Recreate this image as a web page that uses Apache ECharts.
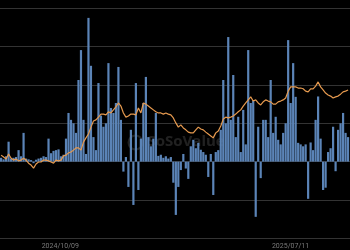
<!DOCTYPE html>
<html>
<head>
<meta charset="utf-8">
<script src="https://cdn.jsdelivr.net/npm/echarts@6/dist/echarts.min.js"></script>
<style>html,body{margin:0;padding:0;background:#000;}#c{width:350px;height:250px;}</style>
</head>
<body>
<div id="c"></div>
<script>
const dates = ['2024-07-29','2024-08-01','2024-08-04','2024-08-07','2024-08-10','2024-08-13','2024-08-16','2024-08-19','2024-08-22','2024-08-25',
'2024-08-28','2024-08-31','2024-09-03','2024-09-06','2024-09-09','2024-09-12','2024-09-15','2024-09-18','2024-09-21','2024-09-24',
'2024-09-27','2024-09-30','2024-10-03','2024-10-06','2024-10-09','2024-10-12','2024-10-15','2024-10-18','2024-10-21','2024-10-24',
'2024-10-27','2024-10-30','2024-11-02','2024-11-05','2024-11-08','2024-11-11','2024-11-14','2024-11-17','2024-11-20','2024-11-23',
'2024-11-26','2024-11-29','2024-12-02','2024-12-05','2024-12-08','2024-12-11','2024-12-14','2024-12-17','2024-12-20','2024-12-23',
'2024-12-26','2024-12-29','2025-01-01','2025-01-04','2025-01-07','2025-01-10','2025-01-13','2025-01-16','2025-01-19','2025-01-22',
'2025-01-25','2025-01-28','2025-01-31','2025-02-03','2025-02-06','2025-02-09','2025-02-12','2025-02-15','2025-02-18','2025-02-21',
'2025-02-24','2025-02-27','2025-03-02','2025-03-05','2025-03-08','2025-03-11','2025-03-14','2025-03-17','2025-03-20','2025-03-23',
'2025-03-26','2025-03-29','2025-04-01','2025-04-04','2025-04-07','2025-04-10','2025-04-13','2025-04-16','2025-04-19','2025-04-22',
'2025-04-25','2025-04-28','2025-05-01','2025-05-04','2025-05-07','2025-05-10','2025-05-13','2025-05-16','2025-05-19','2025-05-22',
'2025-05-25','2025-05-28','2025-05-31','2025-06-03','2025-06-06','2025-06-09','2025-06-12','2025-06-15','2025-06-18','2025-06-21',
'2025-06-24','2025-06-27','2025-06-30','2025-07-03','2025-07-06','2025-07-09','2025-07-12','2025-07-15','2025-07-18','2025-07-21',
'2025-07-24','2025-07-27','2025-07-30','2025-08-02','2025-08-05','2025-08-08','2025-08-11','2025-08-14','2025-08-17','2025-08-20',
'2025-08-23','2025-08-26','2025-08-29','2025-09-01','2025-09-04','2025-09-07','2025-09-10','2025-09-13','2025-09-16','2025-09-19'];

const flows = [10,6,14,52,8,10,12,30,14,75,
8,6,4,-4,5,8,10,14,12,60,
22,28,30,32,14,18,60,127,109,100,
75,213,291,109,20,375,250,64,30,205,
120,91,100,257,140,127,153,247,109,-26,
12,-66,83,-113,205,-74,60,153,221,64,
40,60,127,15,18,10,14,8,12,-55,
-139,-66,-22,20,-18,-45,40,57,35,49,
31,25,18,-40,20,-87,25,30,83,213,
100,325,109,226,64,117,25,135,45,291,
153,160,-144,91,-43,109,109,64,213,75,
117,57,45,75,100,317,153,257,169,49,
45,40,45,-97,50,30,109,170,60,-74,
-68,25,35,91,-25,83,100,127,75,64];

const price = [21.7,21.2,20.7,22.0,20.9,20.4,20.7,20.2,20.4,20.9,
20.4,19.6,19.1,18.3,19.4,19.9,19.9,20.4,20.4,20.2,
19.9,19.6,20.4,20.2,20.4,21.5,21.7,22.3,22.5,23.0,
23.6,23.6,23.0,25.1,26.2,27.2,29.0,30.6,30.9,31.6,
32.4,32.4,32.2,33.0,32.7,33.5,34.3,35.3,34.5,32.7,
31.6,31.9,32.4,32.4,32.2,34.0,32.7,35.3,35.0,34.5,
34.0,33.5,33.0,32.7,32.7,32.4,32.7,32.4,32.2,31.4,
30.1,29.0,29.6,28.8,28.3,27.7,27.5,27.5,28.3,29.0,
28.5,28.3,27.7,27.2,26.7,26.2,27.5,28.0,29.3,31.1,
31.6,31.4,31.6,31.9,32.4,33.0,33.5,34.5,35.3,36.1,
36.9,35.8,36.1,35.3,34.8,35.6,36.1,35.8,35.6,35.0,
35.0,35.6,35.8,36.1,36.6,38.4,39.5,39.5,39.5,39.2,
39.2,39.0,38.4,38.2,39.0,39.0,39.7,40.8,39.5,38.7,
37.9,37.4,37.1,36.6,36.9,37.1,37.6,38.2,38.4,38.7];

const tickLabels = ['2024/10/09', '2025/07/11'];

const pd = s => echarts.number.parseDate(s.replace(/\//g, '-')).getTime();
const xMin = pd('2024-07-29');
const xMax = pd('2025-09-20');
const pad = n => (n < 10 ? '0' : '') + n;
const fmt = v => { const d = new Date(v); return d.getFullYear() + '/' + pad(d.getMonth() + 1) + '/' + pad(d.getDate()); };

const chart = echarts.init(document.getElementById('c'), null, {renderer: 'canvas'});
chart.setOption({
  backgroundColor: '#000000',
  animation: false,
  grid: {left: 0, right: 0, top: 8.3, bottom: 11.7, containLabel: false},
  xAxis: [{
    type: 'time', min: xMin, max: xMax,
    axisLine: {show: false}, axisTick: {show: false}, splitLine: {show: false},
    axisLabel: {show: false}
  }, {
    type: 'value', min: xMin, max: xMax, position: 'bottom',
    axisLine: {show: false}, axisTick: {show: false}, splitLine: {show: false},
    axisLabel: {
      customValues: tickLabels.map(pd),
      color: '#7a7a7a', fontSize: 7, margin: 4, fontFamily: 'Roboto',
      formatter: v => fmt(v)
    }
  }],
  yAxis: [{
    type: 'value', min: -200, max: 400, interval: 100,
    axisLabel: {show: false}, axisLine: {show: false}, axisTick: {show: false},
    splitLine: {show: true, lineStyle: {color: '#333333', width: 1}}
  }, {
    type: 'value', min: 0, max: 60, interval: 10,
    axisLabel: {show: false}, axisLine: {show: false}, axisTick: {show: false},
    splitLine: {show: false}
  }],
  graphic: [{
    type: 'group', left: 126, top: 133, z: 100, silent: true,
    children: [
      {type: 'circle', shape: {cx: 8, cy: 9, r: 7}, style: {fill: 'none', stroke: 'rgba(255,255,255,0.13)', lineWidth: 2}},
      {type: 'text', x: 20, y: 1, style: {text: 'SoSoValue', fill: 'rgba(255,255,255,0.13)', font: 'bold 15px "Open Sans"'}}
    ]
  }],
  series: [{
    type: 'bar', xAxisIndex: 0, yAxisIndex: 0, barWidth: 2.2,
    itemStyle: {color: '#5b84b7'},
    data: dates.map((d, i) => [d, flows[i]])
  }, {
    type: 'line', xAxisIndex: 0, yAxisIndex: 1, symbol: 'none', z: 5,
    lineStyle: {color: '#e69a4f', width: 1.2},
    data: dates.map((d, i) => [d, price[i]])
  }]
});
</script>
</body>
</html>
